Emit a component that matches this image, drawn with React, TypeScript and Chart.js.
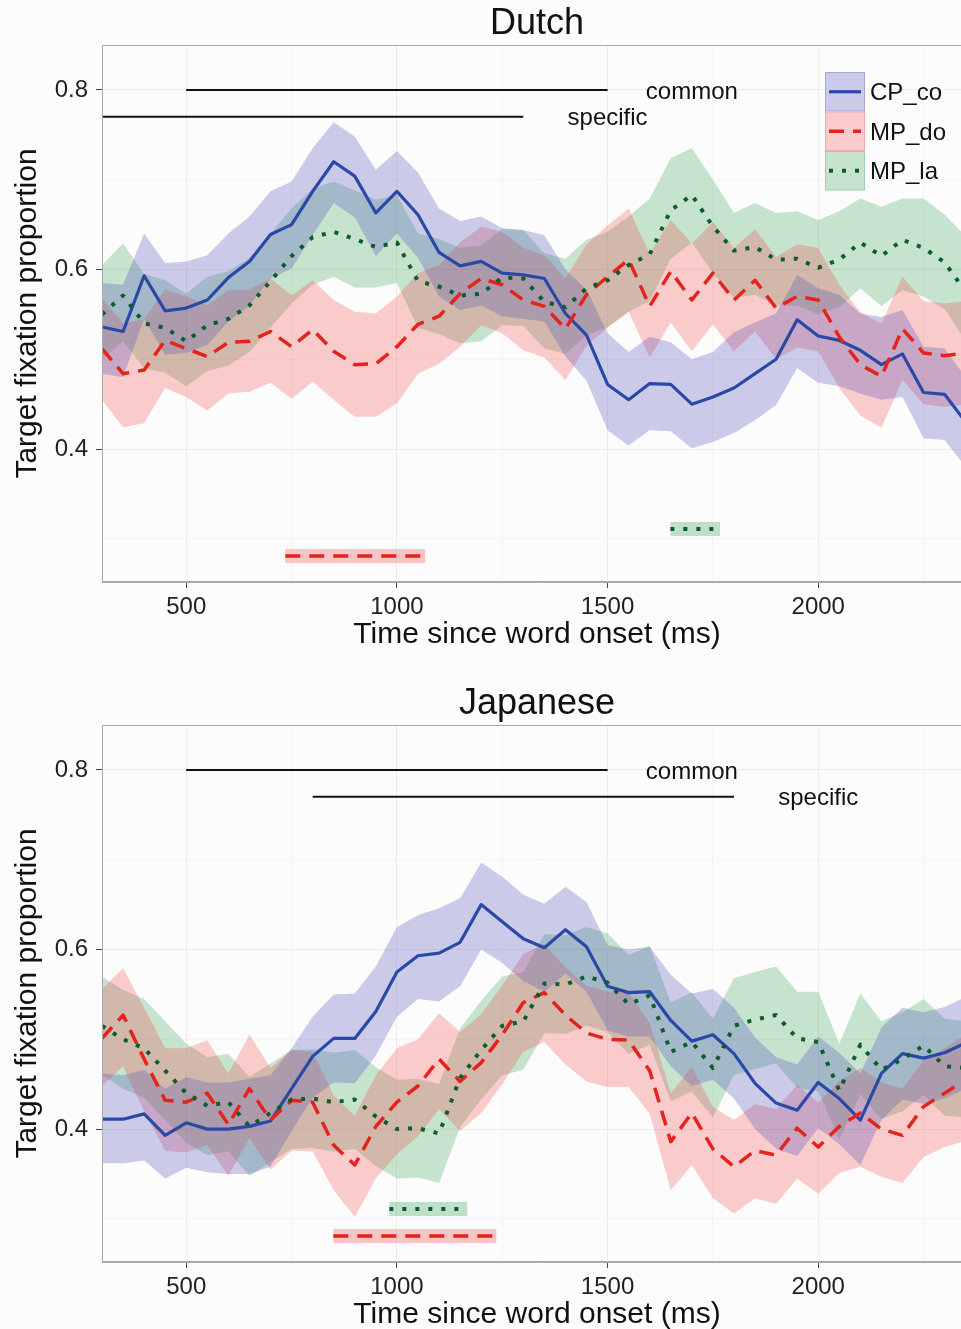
import React, { useEffect, useRef } from 'react';
import { Chart, registerables } from 'chart.js';

Chart.register(...registerables);

// ---------- data ----------
const times = [300, 350, 400, 450, 500, 550, 600, 650, 700, 750, 800, 850, 900, 950, 1000, 1050, 1100, 1150, 1200, 1250, 1300, 1350, 1400, 1450, 1500, 1550, 1600, 1650, 1700, 1750, 1800, 1850, 1900, 1950, 2000, 2050, 2100, 2150, 2200, 2250, 2300, 2350];

const dutchCPco = [0.536, 0.531, 0.593, 0.554, 0.557, 0.566, 0.591, 0.609, 0.639, 0.650, 0.687, 0.720, 0.704, 0.663, 0.687, 0.661, 0.619, 0.604, 0.609, 0.596, 0.594, 0.590, 0.551, 0.527, 0.472, 0.455, 0.473, 0.472, 0.450, 0.458, 0.468, 0.484, 0.500, 0.544, 0.526, 0.521, 0.510, 0.494, 0.506, 0.463, 0.461, 0.430];
const dutchCPcoHi = [0.585, 0.583, 0.640, 0.607, 0.609, 0.616, 0.640, 0.659, 0.687, 0.698, 0.735, 0.764, 0.748, 0.711, 0.732, 0.708, 0.668, 0.654, 0.659, 0.646, 0.644, 0.638, 0.600, 0.578, 0.529, 0.508, 0.525, 0.519, 0.500, 0.508, 0.530, 0.541, 0.551, 0.594, 0.579, 0.572, 0.551, 0.547, 0.555, 0.514, 0.512, 0.480];
const dutchCPcoLo = [0.484, 0.480, 0.545, 0.505, 0.507, 0.516, 0.542, 0.560, 0.590, 0.601, 0.638, 0.674, 0.658, 0.615, 0.640, 0.613, 0.570, 0.555, 0.560, 0.548, 0.545, 0.542, 0.503, 0.476, 0.421, 0.404, 0.421, 0.420, 0.401, 0.408, 0.418, 0.432, 0.449, 0.490, 0.474, 0.470, 0.462, 0.455, 0.458, 0.412, 0.410, 0.380];

const dutchMPdo = [0.512, 0.484, 0.488, 0.521, 0.512, 0.503, 0.519, 0.520, 0.531, 0.514, 0.533, 0.509, 0.494, 0.495, 0.514, 0.539, 0.548, 0.573, 0.590, 0.583, 0.566, 0.559, 0.534, 0.572, 0.592, 0.611, 0.559, 0.598, 0.566, 0.596, 0.566, 0.588, 0.557, 0.570, 0.566, 0.525, 0.494, 0.481, 0.534, 0.507, 0.504, 0.507];
const dutchMPdoHi = [0.568, 0.540, 0.545, 0.578, 0.570, 0.560, 0.577, 0.578, 0.590, 0.571, 0.588, 0.566, 0.553, 0.551, 0.570, 0.596, 0.605, 0.630, 0.648, 0.642, 0.624, 0.616, 0.590, 0.628, 0.649, 0.668, 0.617, 0.655, 0.629, 0.653, 0.624, 0.645, 0.614, 0.628, 0.624, 0.583, 0.552, 0.540, 0.592, 0.565, 0.562, 0.565];
const dutchMPdoLo = [0.455, 0.424, 0.429, 0.468, 0.458, 0.443, 0.462, 0.464, 0.474, 0.456, 0.475, 0.455, 0.436, 0.436, 0.451, 0.484, 0.495, 0.514, 0.538, 0.529, 0.510, 0.502, 0.477, 0.515, 0.535, 0.553, 0.502, 0.541, 0.509, 0.539, 0.509, 0.531, 0.500, 0.513, 0.509, 0.468, 0.437, 0.424, 0.477, 0.450, 0.447, 0.450];

const dutchMPla = [0.550, 0.571, 0.540, 0.535, 0.520, 0.538, 0.545, 0.560, 0.587, 0.615, 0.636, 0.642, 0.634, 0.625, 0.630, 0.587, 0.581, 0.571, 0.573, 0.591, 0.590, 0.564, 0.558, 0.579, 0.588, 0.605, 0.617, 0.666, 0.683, 0.648, 0.621, 0.625, 0.611, 0.612, 0.602, 0.611, 0.630, 0.615, 0.633, 0.624, 0.608, 0.575];
const dutchMPlaHi = [0.605, 0.629, 0.595, 0.588, 0.573, 0.592, 0.598, 0.613, 0.640, 0.668, 0.690, 0.698, 0.688, 0.678, 0.683, 0.640, 0.634, 0.624, 0.627, 0.645, 0.644, 0.618, 0.612, 0.633, 0.642, 0.659, 0.679, 0.724, 0.735, 0.700, 0.663, 0.674, 0.663, 0.665, 0.655, 0.665, 0.679, 0.670, 0.679, 0.679, 0.661, 0.637];
const dutchMPlaLo = [0.500, 0.520, 0.490, 0.485, 0.470, 0.487, 0.493, 0.508, 0.535, 0.562, 0.583, 0.592, 0.580, 0.580, 0.585, 0.535, 0.528, 0.518, 0.520, 0.538, 0.537, 0.512, 0.506, 0.527, 0.536, 0.553, 0.565, 0.612, 0.630, 0.596, 0.568, 0.572, 0.560, 0.560, 0.550, 0.558, 0.579, 0.559, 0.577, 0.570, 0.556, 0.520];

const japCPco = [0.411, 0.411, 0.417, 0.393, 0.407, 0.400, 0.400, 0.403, 0.409, 0.445, 0.481, 0.501, 0.501, 0.531, 0.575, 0.593, 0.596, 0.608, 0.650, 0.631, 0.612, 0.602, 0.622, 0.603, 0.559, 0.552, 0.553, 0.521, 0.498, 0.505, 0.484, 0.451, 0.429, 0.421, 0.452, 0.434, 0.410, 0.462, 0.484, 0.479, 0.485, 0.496];
const japCPcoHi = [0.462, 0.460, 0.466, 0.445, 0.458, 0.452, 0.452, 0.456, 0.460, 0.490, 0.525, 0.550, 0.551, 0.581, 0.625, 0.638, 0.646, 0.657, 0.697, 0.681, 0.661, 0.651, 0.670, 0.653, 0.605, 0.600, 0.603, 0.572, 0.551, 0.556, 0.535, 0.502, 0.480, 0.472, 0.503, 0.485, 0.462, 0.513, 0.535, 0.530, 0.536, 0.547];
const japCPcoLo = [0.362, 0.362, 0.365, 0.345, 0.357, 0.352, 0.350, 0.350, 0.358, 0.398, 0.435, 0.452, 0.451, 0.482, 0.525, 0.545, 0.542, 0.559, 0.600, 0.585, 0.565, 0.553, 0.573, 0.553, 0.510, 0.503, 0.503, 0.470, 0.448, 0.455, 0.434, 0.400, 0.378, 0.370, 0.401, 0.383, 0.360, 0.410, 0.433, 0.428, 0.434, 0.445];

const japMPdo = [0.501, 0.527, 0.478, 0.432, 0.430, 0.440, 0.405, 0.445, 0.410, 0.432, 0.430, 0.382, 0.360, 0.403, 0.430, 0.448, 0.478, 0.453, 0.474, 0.505, 0.541, 0.552, 0.527, 0.507, 0.500, 0.499, 0.465, 0.386, 0.418, 0.378, 0.358, 0.376, 0.371, 0.401, 0.380, 0.403, 0.418, 0.400, 0.393, 0.425, 0.440, 0.455];
const japMPdoHi = [0.556, 0.579, 0.535, 0.490, 0.490, 0.499, 0.462, 0.505, 0.468, 0.488, 0.486, 0.437, 0.415, 0.460, 0.490, 0.500, 0.529, 0.508, 0.528, 0.560, 0.595, 0.606, 0.580, 0.560, 0.553, 0.552, 0.518, 0.440, 0.469, 0.425, 0.410, 0.428, 0.422, 0.449, 0.430, 0.453, 0.468, 0.452, 0.445, 0.476, 0.490, 0.505];
const japMPdoLo = [0.448, 0.470, 0.420, 0.376, 0.374, 0.382, 0.348, 0.390, 0.355, 0.376, 0.375, 0.332, 0.302, 0.345, 0.372, 0.392, 0.422, 0.398, 0.418, 0.450, 0.486, 0.497, 0.472, 0.453, 0.447, 0.447, 0.417, 0.332, 0.360, 0.323, 0.306, 0.323, 0.317, 0.345, 0.328, 0.351, 0.358, 0.347, 0.340, 0.369, 0.380, 0.387];

const japMPla = [0.515, 0.500, 0.490, 0.465, 0.440, 0.426, 0.430, 0.403, 0.418, 0.433, 0.434, 0.430, 0.433, 0.414, 0.400, 0.401, 0.395, 0.457, 0.488, 0.515, 0.520, 0.562, 0.561, 0.570, 0.563, 0.539, 0.549, 0.486, 0.497, 0.468, 0.515, 0.522, 0.527, 0.501, 0.497, 0.443, 0.494, 0.466, 0.478, 0.493, 0.470, 0.468];
const japMPlaHi = [0.570, 0.555, 0.545, 0.520, 0.495, 0.480, 0.484, 0.458, 0.473, 0.488, 0.489, 0.485, 0.488, 0.469, 0.455, 0.456, 0.450, 0.512, 0.543, 0.570, 0.575, 0.617, 0.616, 0.625, 0.618, 0.594, 0.604, 0.541, 0.552, 0.523, 0.568, 0.575, 0.581, 0.553, 0.553, 0.495, 0.551, 0.520, 0.530, 0.545, 0.523, 0.520];
const japMPlaLo = [0.460, 0.445, 0.435, 0.410, 0.385, 0.371, 0.375, 0.348, 0.363, 0.378, 0.379, 0.375, 0.378, 0.359, 0.345, 0.346, 0.340, 0.402, 0.433, 0.460, 0.466, 0.507, 0.506, 0.515, 0.508, 0.484, 0.494, 0.431, 0.442, 0.413, 0.460, 0.467, 0.473, 0.446, 0.442, 0.388, 0.439, 0.411, 0.420, 0.438, 0.415, 0.413];

const xTicks = [500, 750, 1000, 1250, 1500, 1750, 2000, 2250];
const xLabelTicks = [500, 1000, 1500, 2000];
const yTicks = [0.3, 0.4, 0.5, 0.6, 0.7, 0.8];
const yLabelTicks = [0.4, 0.6, 0.8];

const seriesNames = ['CP_co', 'MP_do', 'MP_la'];

// reference periods (ms) and their levels
const dutchCommon = [500, 1500];
const dutchSpecific = [300, 1300];
const japCommon = [500, 1500];
const japSpecific = [800, 1800];
const commonLevel = 0.8;
const specificLevel = 0.77;

// significance windows (ms)
const dutchSigRed = [735, 1067];
const dutchSigGreen = [1649, 1767];
const japSigRed = [849, 1236];
const japSigGreen = [982, 1167];
const sigRedLevel = 0.281;
const sigGreenLevel = 0.311;

// ---------- styles ----------
const FONT = '"Liberation Sans", Arial, Helvetica, sans-serif';
const STY = [
  { line: '#2a49a6', band: 'rgba(70,70,180,0.27)', dash: [] as number[], width: 3.2 },
  { line: '#e5231d', band: 'rgba(240,70,70,0.27)', dash: [15, 9], width: 3.5 },
  { line: '#0d5c2c', band: 'rgba(50,160,80,0.27)', dash: [4, 9], width: 4 },
];

type PanelData = {
  title: string;
  means: number[][];
  his: number[][];
  los: number[][];
  common: number[];
  specific: number[];
  sigRed: number[];
  sigGreen: number[];
  legend: boolean;
};

const pts = (arr: number[]) => times.map((t, i) => ({ x: t, y: arr[i] }));
const seg = (xs: number[], lvl: number) => xs.map((x) => ({ x, y: lvl }));

function buildDatasets(p: PanelData) {
  const ds: any[] = [];
  for (let s = 0; s < 3; s++) {
    ds.push({
      data: pts(p.his[s]), borderColor: 'rgba(0,0,0,0)', borderWidth: 1, pointRadius: 0,
      backgroundColor: STY[s].band, fill: '+1', order: 20, tension: 0,
    });
    ds.push({
      data: pts(p.los[s]), borderColor: 'rgba(0,0,0,0)', borderWidth: 1, pointRadius: 0,
      fill: false, order: 20, tension: 0,
    });
  }
  for (let s = 0; s < 3; s++) {
    ds.push({
      data: pts(p.means[s]), borderColor: STY[s].line, borderWidth: STY[s].width,
      borderDash: STY[s].dash, pointRadius: 0, fill: false, order: 3 - s, tension: 0,
      borderJoinStyle: 'round',
    });
  }
  // reference period lines
  ds.push({ data: seg(p.common, commonLevel), borderColor: '#111', borderWidth: 2, pointRadius: 0, fill: false, order: 0 });
  ds.push({ data: seg(p.specific, specificLevel), borderColor: '#111', borderWidth: 2, pointRadius: 0, fill: false, order: 0 });
  // significance bars
  ds.push({ data: seg(p.sigRed, sigRedLevel), borderColor: 'rgba(240,70,70,0.3)', borderWidth: 14, pointRadius: 0, fill: false, order: 10 });
  ds.push({ data: seg(p.sigRed, sigRedLevel), borderColor: STY[1].line, borderWidth: 3.5, borderDash: STY[1].dash, pointRadius: 0, fill: false, order: 0 });
  ds.push({ data: seg(p.sigGreen, sigGreenLevel), borderColor: 'rgba(50,160,80,0.3)', borderWidth: 14, pointRadius: 0, fill: false, order: 10 });
  ds.push({ data: seg(p.sigGreen, sigGreenLevel), borderColor: STY[2].line, borderWidth: 4, borderDash: STY[2].dash, pointRadius: 0, fill: false, order: 0 });
  return ds;
}

function overlayPlugin(p: PanelData) {
  return {
    id: 'overlay',
    afterDatasetsDraw(chart: any) {
      const { ctx, chartArea } = chart;
      const { left, right, top, bottom } = chartArea;
      const xs = chart.scales.x;
      const ys = chart.scales.y;
      ctx.save();
      ctx.strokeStyle = '#a9a9a9';
      ctx.lineWidth = 1;
      ctx.strokeRect(left + 0.5, top + 0.5, right - left - 1, bottom - top - 1);

      ctx.fillStyle = '#111';
      ctx.textAlign = 'center';
      ctx.textBaseline = 'middle';
      ctx.font = `36px ${FONT}`;
      ctx.fillText(p.title, (left + right) / 2, top - 21);

      ctx.font = `24px ${FONT}`;
      ctx.fillText('common', xs.getPixelForValue(p.common[1] + 200), ys.getPixelForValue(commonLevel) + 2);
      ctx.fillText('specific', xs.getPixelForValue(p.specific[1] + 200), ys.getPixelForValue(specificLevel) + 2);

      if (p.legend) {
        const kx = 825, kw = 40;
        const rows = [72, 111.5, 151];
        const kh = 39.5;
        for (let s = 0; s < 3; s++) {
          const ky = rows[s];
          ctx.fillStyle = '#fcfcfd';
          ctx.fillRect(kx, ky, kw, kh);
          ctx.fillStyle = STY[s].band;
          ctx.fillRect(kx, ky, kw, kh);
          ctx.strokeStyle = STY[s].band;
          ctx.lineWidth = 1;
          ctx.strokeRect(kx + 0.5, ky + 0.5, kw - 1, kh - 1);
          ctx.beginPath();
          ctx.setLineDash(STY[s].dash);
          ctx.strokeStyle = STY[s].line;
          ctx.lineWidth = STY[s].width;
          ctx.moveTo(kx + 4, ky + kh / 2);
          ctx.lineTo(kx + kw - 4, ky + kh / 2);
          ctx.stroke();
          ctx.setLineDash([]);
          ctx.fillStyle = '#111';
          ctx.textAlign = 'left';
          ctx.fillText(seriesNames[s], kx + kw + 5, ky + kh / 2 + 2);
        }
      }
      ctx.restore();
    },
  };
}

function makeConfig(p: PanelData, padTop: number, xAxisH: number, xTitlePadB: number) {
  return {
    type: 'line' as const,
    data: { datasets: buildDatasets(p) },
    plugins: [overlayPlugin(p)],
    options: {
      animation: false as const,
      responsive: false,
      events: [],
      layout: { padding: { top: padTop, right: 2, left: 0, bottom: 0 } },
      plugins: {
        legend: { display: false },
        tooltip: { enabled: false },
        title: { display: false },
        filler: { propagate: false, drawTime: 'beforeDatasetsDraw' },
      },
      scales: {
        x: {
          type: 'linear',
          min: 300,
          max: 2365,
          afterBuildTicks: (scale: any) => { scale.ticks = xTicks.map((v) => ({ value: v })); },
          afterFit: (scale: any) => { scale.height = xAxisH; },
          ticks: {
            autoSkip: false,
            maxRotation: 0,
            padding: 5,
            color: '#222',
            font: { family: FONT, size: 24 },
            callback: (v: number) => (xLabelTicks.includes(v) ? String(v) : ''),
          },
          grid: {
            color: (c: any) => (c.tick && xLabelTicks.includes(c.tick.value) ? '#f0ebeb' : '#f6f3f3'),
            tickColor: (c: any) => (c.tick && xLabelTicks.includes(c.tick.value) ? '#444' : 'rgba(0,0,0,0)'),
            tickLength: 6,
            lineWidth: 1,
          },
          border: { display: true, color: '#a9a9a9' },
          title: {
            display: true,
            text: 'Time since word onset (ms)',
            color: '#111',
            font: { family: FONT, size: 30 },
            padding: { top: 0, bottom: xTitlePadB },
          },
        },
        y: {
          type: 'linear',
          min: 0.252,
          max: 0.85,
          afterBuildTicks: (scale: any) => { scale.ticks = yTicks.map((v) => ({ value: v })); },
          afterFit: (scale: any) => { scale.width = 102; },
          ticks: {
            autoSkip: false,
            padding: 8,
            color: '#222',
            font: { family: FONT, size: 24 },
            callback: (v: number) => (yLabelTicks.some((t) => Math.abs(t - v) < 1e-6) ? v.toFixed(1) : ''),
          },
          grid: {
            color: (c: any) => (c.tick && yLabelTicks.some((t) => Math.abs(t - c.tick.value) < 1e-6) ? '#f0ebeb' : '#f6f3f3'),
            tickColor: (c: any) => (c.tick && yLabelTicks.some((t) => Math.abs(t - c.tick.value) < 1e-6) ? '#444' : 'rgba(0,0,0,0)'),
            tickLength: 6,
            lineWidth: 1,
          },
          border: { display: true, color: '#a9a9a9' },
          title: {
            display: true,
            text: 'Target fixation proportion',
            color: '#111',
            font: { family: FONT, size: 30 },
            padding: { top: 10, bottom: 0 },
          },
        },
      },
    },
  };
}

const dutchPanel: PanelData = {
  title: 'Dutch',
  means: [dutchCPco, dutchMPdo, dutchMPla],
  his: [dutchCPcoHi, dutchMPdoHi, dutchMPlaHi],
  los: [dutchCPcoLo, dutchMPdoLo, dutchMPlaLo],
  common: dutchCommon,
  specific: dutchSpecific,
  sigRed: dutchSigRed,
  sigGreen: dutchSigGreen,
  legend: true,
};

const japPanel: PanelData = {
  title: 'Japanese',
  means: [japCPco, japMPdo, japMPla],
  his: [japCPcoHi, japMPdoHi, japMPlaHi],
  los: [japCPcoLo, japMPdoLo, japMPlaLo],
  common: japCommon,
  specific: japSpecific,
  sigRed: japSigRed,
  sigGreen: japSigGreen,
  legend: false,
};

export default function App() {
  const refA = useRef<HTMLCanvasElement | null>(null);
  const refB = useRef<HTMLCanvasElement | null>(null);

  useEffect(() => {
    const a = new Chart(refA.current as HTMLCanvasElement, makeConfig(dutchPanel, 45, 83, 12) as any);
    const b = new Chart(refB.current as HTMLCanvasElement, makeConfig(japPanel, 61, 71, 0) as any);
    return () => {
      a.destroy();
      b.destroy();
    };
  }, []);

  return (
    <div style={{ position: 'absolute', left: 0, top: 0, width: 961, height: 1329, overflow: 'hidden', background: '#fcfcfd' }}>
      <canvas ref={refA} width={974} height={665} style={{ position: 'absolute', left: 0, top: 0 }} />
      <canvas ref={refB} width={974} height={669} style={{ position: 'absolute', left: 0, top: 664 }} />
    </div>
  );
}
